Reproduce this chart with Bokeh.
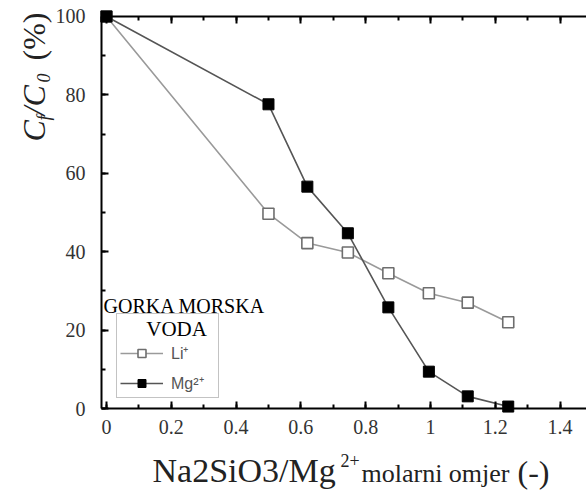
import math
from bokeh.plotting import figure
from bokeh.models import (Range1d, LinearAxis, SingleIntervalTicker, NumeralTickFormatter,
                          Label, Legend, LegendItem)
from bokeh.embed import file_html
from bokeh.resources import INLINE

# ---- data ----
ratio = [0.0, 0.5, 0.62, 0.745, 0.87, 0.995, 1.115, 1.24]
li_vals = [100.0, 49.7, 42.2, 39.8, 34.5, 29.4, 27.0, 22.0]
mg_vals = [100.0, 77.6, 56.6, 44.7, 25.8, 9.4, 3.1, 0.5]
x_ticks_interval = 0.2
y_ticks_interval = 20
li_label = "Li\u207a"
mg_label = "Mg\u00b2\u207a"

SERIF = "Liberation Serif"
SANS = "Liberation Sans"

W, H = 586, 493
# frame covers whole canvas; axes are placed at fixed locations inside it
X0, X1 = -0.327, 1.4815
Y0, Y1 = -21.68, 104.08
XL = -0.0154
XR = X1

p = figure(width=W, height=H, output_backend="svg", toolbar_location=None,
           x_range=Range1d(X0, X1), y_range=Range1d(Y0, Y1),
           min_border_left=0, min_border_right=0, min_border_top=0, min_border_bottom=0,
           x_axis_location=None, y_axis_location=None)
p.outline_line_color = None
p.xgrid.visible = False
p.ygrid.visible = False
p.background_fill_color = "white"
p.border_fill_color = "white"

def style_axis(ax, ticker, fmt, show_labels=True, standoff=10):
    ax.ticker = ticker
    ax.formatter = fmt
    ax.axis_line_width = 2
    ax.axis_line_color = "black"
    ax.major_tick_in = 7
    ax.major_tick_out = 0
    ax.minor_tick_in = 4
    ax.minor_tick_out = 0
    ax.major_tick_line_width = 2
    ax.minor_tick_line_width = 2
    ax.major_tick_line_color = "black"
    ax.minor_tick_line_color = "black"
    ax.major_label_text_font = SERIF
    ax.major_label_text_font_size = "20px"
    ax.major_label_text_color = "#333333" if show_labels else None
    ax.major_label_standoff = standoff
    ax.axis_label = None

xb = LinearAxis(fixed_location=0, bounds=(XL, XR))
style_axis(xb, SingleIntervalTicker(interval=x_ticks_interval, num_minor_ticks=2),
           NumeralTickFormatter(format="0.[0]"), standoff=11)
p.add_layout(xb, "below")

xt = LinearAxis(fixed_location=100, bounds=(XL, XR))
style_axis(xt, SingleIntervalTicker(interval=x_ticks_interval, num_minor_ticks=2),
           NumeralTickFormatter(format="0.[0]"), show_labels=False)
xt.major_label_text_alpha = 0
p.add_layout(xt, "above")

yl = LinearAxis(fixed_location=XL, bounds=(0, 100))
style_axis(yl, SingleIntervalTicker(interval=y_ticks_interval, num_minor_ticks=2),
           NumeralTickFormatter(format="0"), standoff=16)
p.add_layout(yl, "left")

# ---- series ----
li_line = p.line(ratio, li_vals, line_color="#9a9a9a", line_width=1.6)
li_pts = p.scatter(ratio, li_vals, marker="square", size=11, fill_color="white",
                   line_color="#6e6e6e", line_width=1.6)
mg_line = p.line(ratio, mg_vals, line_color="#555555", line_width=1.6)
mg_pts = p.scatter(ratio, mg_vals, marker="square", size=11, fill_color="black",
                   line_color="black", line_width=1)

legend = Legend(items=[LegendItem(label=li_label, renderers=[li_line, li_pts]),
                       LegendItem(label=mg_label, renderers=[mg_line, mg_pts])],
                location=(116, 95))
legend.title = "\u00a0\u00a0\u00a0\u00a0\u00a0VODA"
legend.title_text_font = SERIF
legend.title_text_font_size = "21px"
legend.title_text_font_style = "normal"
legend.title_text_color = "black"
legend.title_standoff = 0
legend.label_text_font = SANS
legend.label_text_font_size = "16px"
legend.label_text_color = "#555555"
legend.glyph_width = 43
legend.glyph_height = 20
legend.label_height = 20
legend.label_width = 44
legend.label_standoff = 8
legend.spacing = 8
legend.padding = 3
legend.margin = 0
legend.border_line_color = "#888888"
legend.border_line_width = 1.5
legend.background_fill_color = "white"
legend.background_fill_alpha = 1
p.add_layout(legend, "center")

# ---- texts (y measured from the canvas top; bokeh's baseline sits ~0.32em below) ----
def lab(text, x, y, size, font=SERIF, style="normal", angle=0.0, color="black"):
    p.add_layout(Label(x=x, y=H - y, x_units="screen", y_units="screen", text=text,
                       text_font=font, text_font_size=f"{size}px", text_font_style=style,
                       text_color=color, angle=angle, text_align="left",
                       text_baseline="alphabetic"))

lab("GORKA MORSKA", 103, 305, 20)

# x axis title
lab("Na2SiO3/Mg", 152, 470, 34, color="#222222")
lab("2+", 340, 460, 18, color="#222222")
lab("molarni omjer", 361, 473, 26, color="#222222")
lab("(-)", 517, 471, 32, color="#222222")

# y axis title (rotated, reading upward)
r = math.pi / 2
bx = 33
sx = 43
lab("C", bx, 141, 32, style="italic", angle=r, color="#222222")
lab("f", sx, 120, 18, style="italic", angle=r, color="#222222")
lab("/C", bx, 115, 32, style="italic", angle=r, color="#222222")
lab("0", sx, 82, 18, style="italic", angle=r, color="#222222")
lab("(%)", bx, 60, 32, angle=r, color="#222222")

open("out.html", "w").write(file_html(p, INLINE))
